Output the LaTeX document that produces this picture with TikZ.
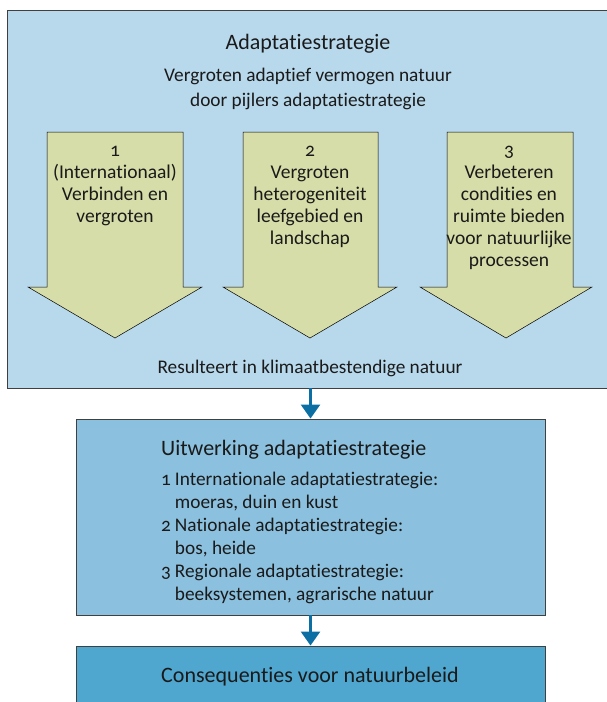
\documentclass[tikz,border=0pt]{standalone}
\usepackage{fontspec}
\setmainfont[Numbers=OldStyle, Ligatures=NoCommon]{Carlito}
\usetikzlibrary{arrows.meta}
\definecolor{strategieblauw}{HTML}{B8D8EC}
\definecolor{uitwerkblauw}{HTML}{8BC0DE}
\definecolor{beleidblauw}{HTML}{4FA6CF}
\definecolor{pijlgroen}{HTML}{D6DDA8}
\definecolor{pijlblauw}{HTML}{0B6FA4}
\definecolor{tekstkleur}{HTML}{1A1A1A}
\tikzset{
  blok/.style={draw=black!75, line width=0.9pt, inner sep=0pt},
  pijler/.style={draw=black, line width=0.5pt, fill=pijlgroen},
  titel/.style={inner sep=0pt, text=tekstkleur, font=\fontsize{22}{26}\selectfont},
  tekst/.style={inner sep=0pt, text=tekstkleur, font=\fontsize{19.3}{25}\selectfont},
  pijltekst/.style={inner sep=0pt, text=tekstkleur, font=\fontsize{19.5}{22}\selectfont},
  lijst/.style={inner sep=0pt, text=tekstkleur, font=\fontsize{19.3}{23}\selectfont},
  verbinding/.style={draw=pijlblauw, line width=2.6pt, -{Triangle[width=19pt,length=14pt]}},
}
\begin{document}
\begin{tikzpicture}[x=1pt,y=-1pt]
	\useasboundingbox (0,0) rectangle (607,702);
	% blokken
	\node[blok, fill=strategieblauw, minimum width=605pt, minimum height=378pt] (strategie) at (309.5,199) {};
	\node[blok, fill=uitwerkblauw, minimum width=469pt, minimum height=196pt] (uitwerking) at (310.5,517) {};
	\node[blok, fill=beleidblauw, minimum width=469pt, minimum height=64pt] (beleid) at (310.5,678) {};
	% adaptatiestrategie
	\node[titel, anchor=base] (strattitel) at (308,49) {Adaptatiestrategie};
	\node[tekst, anchor=base] (doel) at (308,81) {\begin{tabular}[t]{@{}c@{}}Vergroten adaptief vermogen natuur\\door pijlers adaptatiestrategie\end{tabular}};
	\draw[pijler] (47,132) -- (183,132) -- (183,287) -- (202,287) -- (115,338) -- (28,287) -- (47,287) -- cycle;
	\draw[pijler] (243,132) -- (378,132) -- (378,287) -- (397,287) -- (310,338) -- (223,287) -- (243,287) -- cycle;
	\draw[pijler] (447,132) -- (573,132) -- (573,287) -- (592,287) -- (506,338) -- (420,287) -- (447,287) -- cycle;
	\node[pijltekst, anchor=base] (pijler1) at (115,156) {\begin{tabular}[t]{@{}c@{}}1\\(Internationaal)\\Verbinden en\\vergroten\end{tabular}};
	\node[pijltekst, anchor=base] (pijler2) at (310,156) {\begin{tabular}[t]{@{}c@{}}2\\Vergroten\\heterogeniteit\\leefgebied en\\landschap\end{tabular}};
	\node[pijltekst, anchor=base] (pijler3) at (509,156) {\begin{tabular}[t]{@{}c@{}}3\\Verbeteren\\condities en\\ruimte bieden\\voor natuurlijke\\processen\end{tabular}};
	\node[tekst, anchor=base] (resultaat) at (310,373) {Resulteert in klimaatbestendige natuur};
	% uitwerking
	\node[titel, anchor=base west] (uitwtitel) at (161,455) {Uitwerking adaptatiestrategie};
	\node[lijst, anchor=base west] (uitwlijst) at (161,485) {\begin{tabular}[t]{@{}l@{\hspace{4pt}}l@{}}1 & Internationale adaptatiestrategie:\\ & moeras, duin en kust\\2 & Nationale adaptatiestrategie:\\ & bos, heide\\3 & Regionale adaptatiestrategie:\\ & beeksystemen, agrarische natuur\end{tabular}};
	% beleid
	\node[titel, anchor=base] (beleidtekst) at (310,682) {Consequenties voor natuurbeleid};
	% verbindingen
	\draw[verbinding] (strategie.south -| uitwerking.north) -- (uitwerking.north);
	\draw[verbinding] (uitwerking.south) -- (beleid.north);
\end{tikzpicture}
\end{document}
